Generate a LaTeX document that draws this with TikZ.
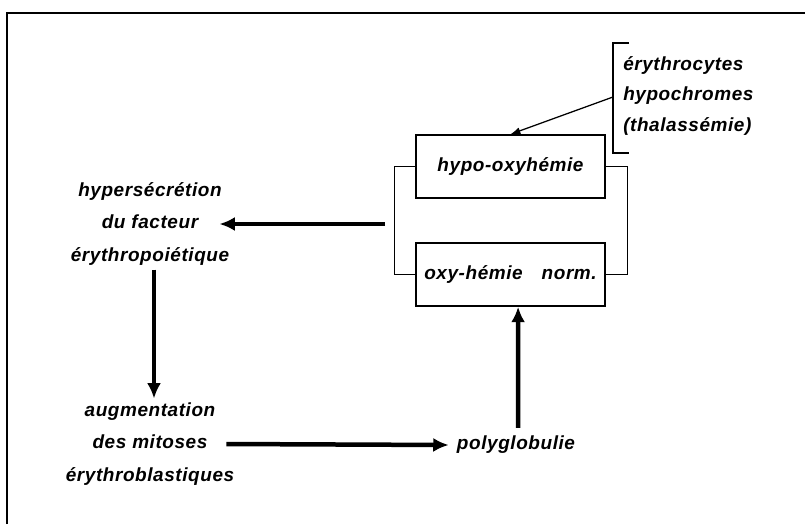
\documentclass[tikz,border=0pt]{standalone}
\usepackage{fontspec}
\setmainfont[LetterSpace=3]{Liberation Sans}
\usepackage{tikz}
\usetikzlibrary{positioning}
\usetikzlibrary{arrows.meta}
\tikzset{box/.style = {draw, line width=1.1pt, minimum width=4.725cm, minimum height=1.575cm, align=center, text centered}}
\tikzset{label/.style = {align=center, inner sep=0pt, font=\fontsize{13.5}{23}\selectfont\bfseries\itshape}}
\tikzset{arr/.style = {line width=3.2pt, -{Latex[length=11pt,width=10pt]}}}
\tikzset{thinarr/.style = {line width=0.9pt, -{Latex[length=7pt,width=5pt]}}}

\begin{document}
\begin{tikzpicture}[font=\fontsize{13.5}{23}\selectfont\bfseries\itshape]
\useasboundingbox (0,0) rectangle (20.125,-13.1);

% frame (only top and left edges show)
\draw[line width=1pt] (0.175,-13.1) -- (0.175,-0.325) -- (20.125,-0.325);

\node[box] (hypo) at (12.7625,-4.1625) {hypo-oxyhémie};
\node[box] (oxy) at (12.7625,-6.8625) {oxy-hémie\quad norm.};
\node[label, anchor=west, align=left, font=\fontsize{13.5}{22}\selectfont\bfseries\itshape] (anno) at (15.575,-2.4) {%
  érythrocytes\\
  hypochromes\\
  (thalassémie)};
\node[label] (hyper) at (3.75,-5.6) {%
  hypersécrétion\\
  du facteur\\
  érythropoiétique};
\node[label] (aug) at (3.75,-11.1) {%
  augmentation\\
  des mitoses\\
  érythroblastiques};
\node[label, inner sep=0.2cm] (poly) at (12.9,-11.125) {polyglobulie};

\coordinate (bt) at (15.325,-1.075);
\coordinate (bb) at (15.325,-3.825);
\coordinate (ba) at (15.325,-2.425);
\coordinate (bl) at (9.625,-5.6);

% bracket round the annotation
\draw[line width=1pt] ([xshift=0.4cm]bt) -- (bt) -- (bb) -- ++(0.4,0);
\draw[thinarr] (ba) -- (hypo.north);

% brackets joining the two boxes
\draw[line width=1pt] (hypo.west) -- ++(-0.525,0) |- (oxy.west);
\draw[line width=1pt] (hypo.east) -- ++(0.55,0) |- (oxy.east);

\draw[arr] (bl) -- ([xshift=-0.25cm]hyper.east);
\draw[arr] ([xshift=0.1cm, yshift=-0.1cm]hyper.south) -- ([xshift=0.1cm, yshift=0.1cm]aug.north);
\draw[arr] ([xshift=-0.2cm]aug.east) -- (poly.west);
\draw[arr] ([xshift=0.05cm]poly.north) -- ([xshift=0.19cm]oxy.south);

\end{tikzpicture}
\end{document}
